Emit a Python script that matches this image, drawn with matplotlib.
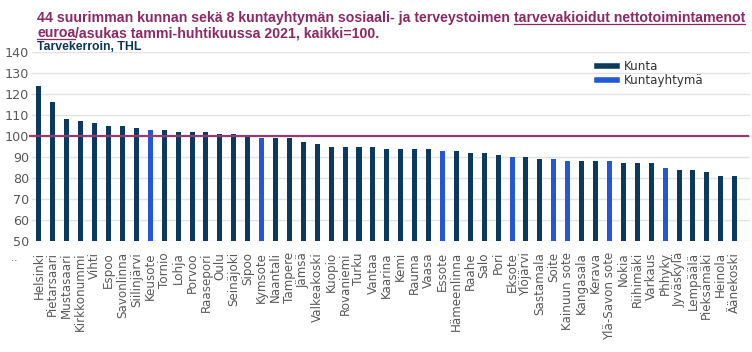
import matplotlib
matplotlib.use("Agg")
import matplotlib.pyplot as plt
from matplotlib.lines import Line2D

categories = ["Helsinki", "Pietarsaari", "Mustasaari", "Kirkkonummi", "Vihti", "Espoo",
              "Savonlinna", "Siilinjärvi", "Keusote", "Tornio", "Lohja", "Porvoo",
              "Raasepori", "Oulu", "Seinäjoki", "Sipoo", "Kymsote", "Naantali", "Tampere",
              "Jämsä", "Valkeakoski", "Kuopio", "Rovaniemi", "Turku", "Vantaa", "Kaarina",
              "Kemi", "Rauma", "Vaasa", "Essote", "Hämeenlinna", "Raahe", "Salo", "Pori",
              "Eksote", "Ylöjärvi", "Sastamala", "Soite", "Kainuun sote", "Kangasala",
              "Kerava", "Ylä-Savon sote", "Nokia", "Riihimäki", "Varkaus", "Phhyky",
              "Jyväskylä", "Lempäälä", "Pieksämäki", "Heinola", "Äänekoski"]
values = [124, 116, 108, 107, 106, 105, 105, 104, 103, 103, 102, 102, 102, 101, 101, 100,
          99, 99, 99, 97, 96, 95, 95, 95, 95, 94, 94, 94, 94, 93, 93, 92, 92, 91,
          90, 90, 89, 89, 88, 88, 88, 88, 87, 87, 87, 85, 84, 84, 83, 81, 81]
kuntayhtyma = ["Keusote", "Kymsote", "Essote", "Eksote", "Soite", "Kainuun sote",
               "Ylä-Savon sote", "Phhyky"]
yticks = [50, 60, 70, 80, 90, 100, 110, 120, 130, 140]
reference = 100

NAVY = "#0b3a5e"
BLUE = "#2457d6"
PURPLE = "#963a72"
TITLE = "#8c2a66"
GRAY = "#595959"

plt.rcParams['font.family'] = ['DejaVu Sans']

fig = plt.figure(figsize=(7.52, 3.52), dpi=100)
W, H = 752, 352
ax = fig.add_axes([32 / W, 1 - 241 / H, (750 - 32) / W, (241 - 52) / H])

x = list(range(len(categories)))
colors = [BLUE if c in kuntayhtyma else NAVY for c in categories]
ax.bar(x, [v - 50 for v in values], bottom=50, width=0.36, color=colors, zorder=3)

ax.set_ylim(50, 140)
ax.set_xlim(-0.5, len(categories) + 0.1)
ax.set_yticks(yticks)
ax.yaxis.grid(True, color="#e3e3e3", linewidth=1, zorder=0)
ax.set_axisbelow(True)
for s in ax.spines.values():
    s.set_visible(False)
ax.tick_params(axis="both", length=0, colors=GRAY)
ax.tick_params(axis="y", labelsize=9.2, pad=2)
ax.set_xticks(x)
ax.set_xticklabels(categories, rotation=90, fontsize=8.6, color=GRAY)
ax.tick_params(axis="x", pad=8)
ax.axhline(reference, color=PURPLE, linewidth=1.6, zorder=4, xmin=-0.003, xmax=0.997,
           clip_on=False)

handles = [Line2D([0], [0], color=NAVY, lw=4), Line2D([0], [0], color=BLUE, lw=4)]
leg = ax.legend(handles, ["Kunta", "Kuntayhtymä"], loc="upper left",
                bbox_to_anchor=(0.772, 1.015), frameon=False, fontsize=8.6,
                handlelength=1.7, handletextpad=0.55, labelspacing=0.1)
for t in leg.get_texts():
    t.set_color("#333333")

fig.text(14 / W, 1 - 258 / H, "‥", fontsize=7, color=GRAY, ha="center", va="center")

# Title with underlined parts
fig.canvas.draw()
rend = fig.canvas.get_renderer()
line1 = [("44 suurimman kunnan sekä 8 kuntayhtymän sosiaali- ja terveystoimen", False),
         ("tarvevakioidut nettotoimintamenot", True)]
line2 = [("euroa", True), ("/asukas tammi-huhtikuussa 2021, kaikki=100.", False)]
tfont = dict(fontsize=10, fontweight="bold", color=TITLE, family="Liberation Sans")

def width_of(s, font):
    t = fig.text(0, 0, s, **font)
    w = t.get_window_extent(rend).width
    t.remove()
    return w

full1 = " ".join(p[0] for p in line1)
tfont["fontsize"] = 10 * 708 / width_of(full1, tfont)
space_w = width_of("a a", tfont) - width_of("aa", tfont)

def draw_line(parts, x0, ybase):
    xp = x0
    for i, (s, ul) in enumerate(parts):
        t = fig.text(xp / W, 1 - ybase / H, s, va="baseline", ha="left", **tfont)
        w = t.get_window_extent(rend).width
        if ul:
            fig.add_artist(Line2D([xp / W, (xp + w) / W],
                                  [1 - (ybase + 2.2) / H] * 2,
                                  color=TITLE, lw=0.9))
        xp += w
        if i < len(parts) - 1 and not parts[i + 1][0].startswith("/"):
            xp += space_w

draw_line(line1, 37, 22)
draw_line(line2, 37, 37)
fig.text(37 / W, 1 - 50 / H, "Tarvekerroin, THL", fontsize=8.8, fontweight="bold",
         color="#0d3658", va="baseline", ha="left", family="Liberation Sans")

fig.savefig("out.png", dpi=100)
